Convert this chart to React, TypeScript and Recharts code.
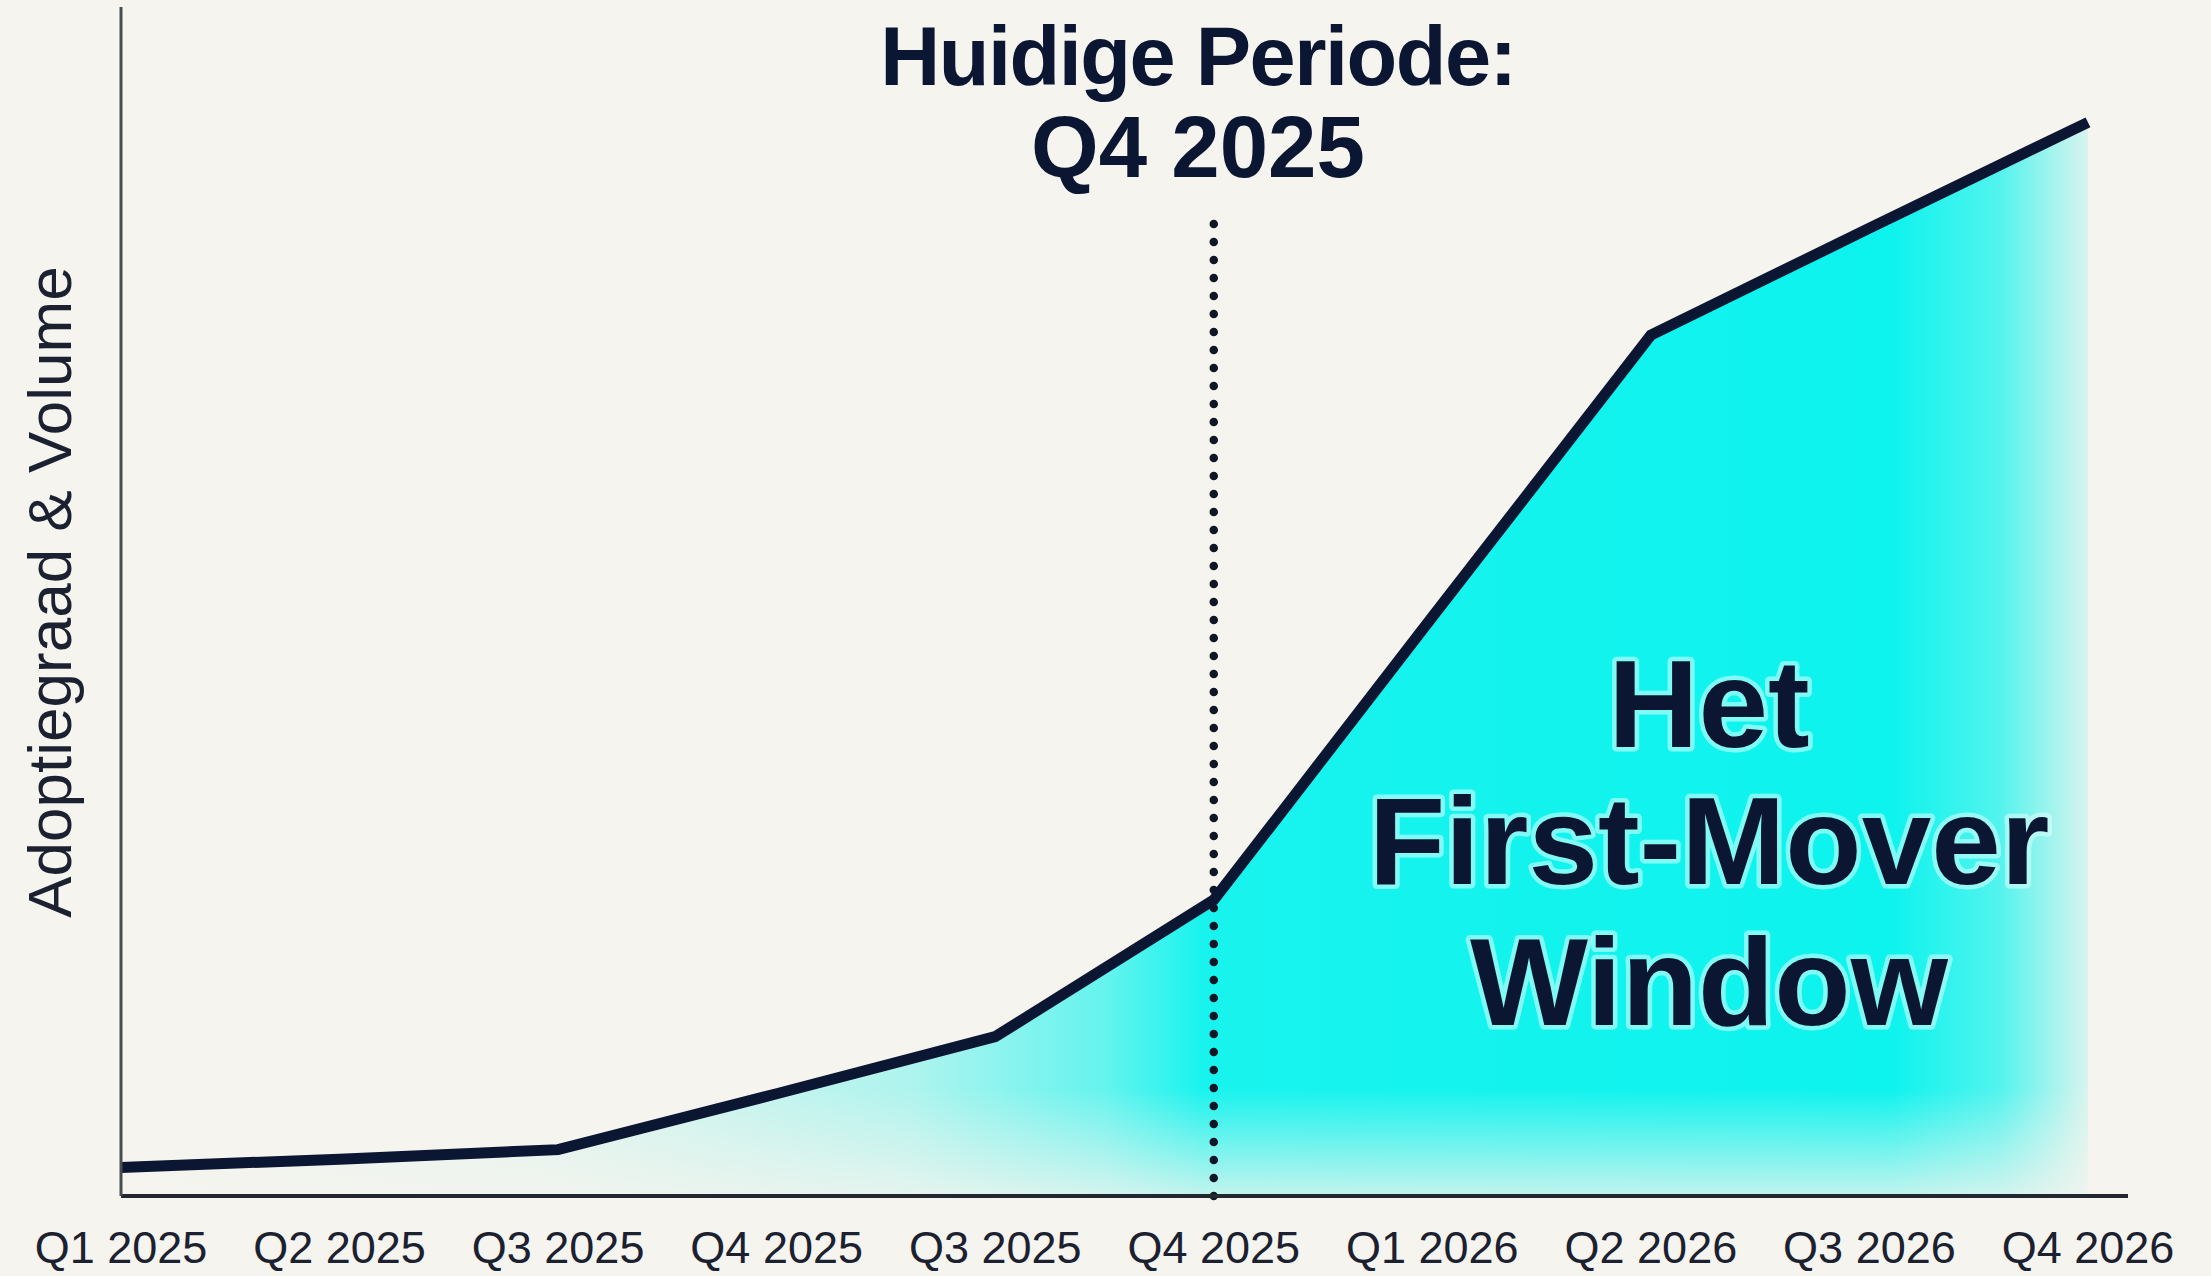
import React from 'react'
import { ComposedChart, Line, Area, XAxis, YAxis, ReferenceLine } from 'recharts'

document.body.style.margin = '0'

const QUARTERS = [
  'Q1 2025',
  'Q2 2025',
  'Q3 2025',
  'Q4 2025',
  'Q3 2025',
  'Q4 2025',
  'Q1 2026',
  'Q2 2026',
  'Q3 2026',
  'Q4 2026',
]

// adoptie-index (0-100)
const ADOPTION = [2.4, 3.1, 3.9, 8.6, 13.4, 24.9, 48.7, 72.4, 81.4, 90.3]

const CURRENT_INDEX = 5
const CURRENT_TOP = 83.1

const BG = '#f5f4ee'
const NAVY = '#0b1633'
const CYAN = '#0df3ee'
const FONT = '"Liberation Sans", Arial, sans-serif'

const data = QUARTERS.map((q, i) => ({ idx: i, label: q, value: ADOPTION[i] }))

export default function App() {
  return (
    <div style={{ position: 'relative', width: 2211, height: 1276, background: BG, overflow: 'hidden' }}>
      <ComposedChart
        width={2211}
        height={1276}
        data={data}
        margin={{ top: 7, right: 83, bottom: 0, left: 0 }}
      >
        <defs>
          <linearGradient id="cyanH" x1="0" y1="0" x2="1" y2="0">
            <stop offset="0" stopColor={CYAN} stopOpacity={0} />
            <stop offset="0.21" stopColor={CYAN} stopOpacity={0.08} />
            <stop offset="0.4" stopColor={CYAN} stopOpacity={0.3} />
            <stop offset="0.5" stopColor={CYAN} stopOpacity={0.62} />
            <stop offset="0.55" stopColor={CYAN} stopOpacity={0.95} />
            <stop offset="0.9" stopColor={CYAN} stopOpacity={1} />
            <stop offset="0.955" stopColor={CYAN} stopOpacity={0.7} />
            <stop offset="1" stopColor={CYAN} stopOpacity={0.12} />
          </linearGradient>
          <linearGradient id="fadeV" x1="0" y1="0" x2="0" y2="1">
            <stop offset="0" stopColor={BG} stopOpacity={0} />
            <stop offset="0.9" stopColor={BG} stopOpacity={0} />
            <stop offset="1" stopColor={BG} stopOpacity={0.78} />
          </linearGradient>
        </defs>

        <XAxis
          dataKey="idx"
          type="category"
          interval={0}
          tickFormatter={(i: number) => QUARTERS[i]}
          axisLine={{ stroke: '#23272f', strokeWidth: 4 }}
          tickLine={false}
          tickSize={0}
          tickMargin={35}
          height={80}
          padding={{ left: 0, right: 40 }}
          tick={{ fill: '#1b2130', fontSize: 45, fontFamily: FONT }}
        />
        <YAxis
          domain={[0, 100]}
          width={121}
          tick={false}
          tickLine={false}
          axisLine={{ stroke: '#4a4d54', strokeWidth: 3 }}
        />

        <Area
          type="linear"
          dataKey="value"
          stroke="none"
          fill="url(#cyanH)"
          fillOpacity={1}
          isAnimationActive={false}
        />
        <Area
          type="linear"
          dataKey="value"
          stroke="none"
          fill="url(#fadeV)"
          fillOpacity={1}
          isAnimationActive={false}
        />

        <ReferenceLine
          segment={[
            { x: CURRENT_INDEX, y: 0 },
            { x: CURRENT_INDEX, y: CURRENT_TOP },
          ]}
          stroke="#0f1626"
          strokeWidth={8.5}
          strokeDasharray="0 18"
          strokeLinecap="round"
        />

        <Line
          type="linear"
          dataKey="value"
          stroke={NAVY}
          strokeWidth={11}
          dot={false}
          activeDot={false}
          isAnimationActive={false}
        />
      </ComposedChart>

      {/* tekstlaag boven de grafiek */}
      <svg
        width={2211}
        height={1276}
        style={{ position: 'absolute', left: 0, top: 0, pointerEvents: 'none' }}
      >
        <text
          x={49}
          y={592}
          transform="rotate(-90 49 592)"
          textAnchor="middle"
          dominantBaseline="central"
          fill="#1b2130"
          fontSize={62}
          fontFamily={FONT}
        >
          Adoptiegraad &amp; Volume
        </text>

        <text textAnchor="middle" fill={NAVY} fontWeight={700} fontFamily={FONT}>
          <tspan x={1198} y={85} fontSize={83} letterSpacing={-1.5}>
            Huidige Periode:
          </tspan>
          <tspan x={1198} y={177} fontSize={87}>
            Q4 2025
          </tspan>
        </text>

        <text
          textAnchor="middle"
          fill={NAVY}
          fontSize={125}
          fontWeight={700}
          fontFamily={FONT}
          stroke="#dcfffb"
          strokeOpacity={0.55}
          strokeWidth={9}
          paintOrder="stroke"
          strokeLinejoin="round"
        >
          <tspan x={1709} y={747}>Het</tspan>
          <tspan x={1709} y={884}>First-Mover</tspan>
          <tspan x={1709} y={1025}>Window</tspan>
        </text>
      </svg>
    </div>
  )
}
